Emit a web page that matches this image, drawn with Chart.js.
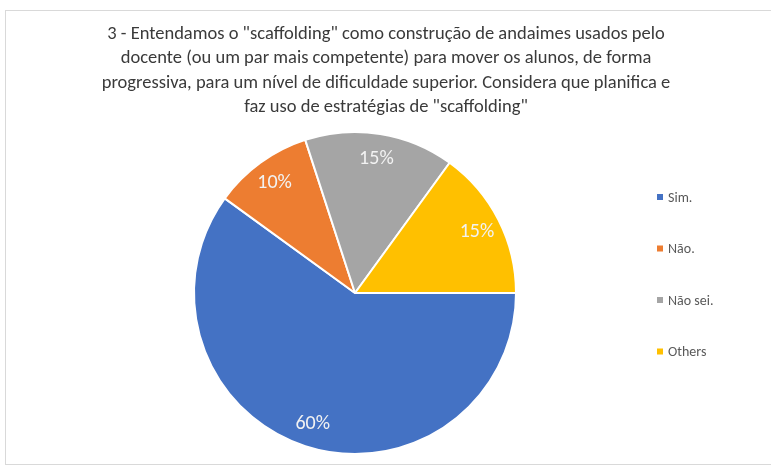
<!DOCTYPE html>
<html>
<head>
<meta charset="utf-8">
<script src="https://cdn.jsdelivr.net/npm/chart.js@4"></script>
<style>
  html, body { margin: 0; padding: 0; background: #fff; }
  #wrap { width: 771px; height: 466px; }
</style>
</head>
<body>
<div id="wrap"><canvas id="grafico" width="771" height="466"></canvas></div>
<script>
const categorias = ["Sim.", "Não.", "Não sei.", "Others"];
const valores = [60, 10, 15, 15];
const cores = ["#4472C4", "#ED7D31", "#A5A5A5", "#FFC000"];
const titulo = [
  '3 - Entendamos o "scaffolding" como construção de andaimes usados pelo',
  'docente (ou um par mais competente) para mover os alunos, de forma',
  'progressiva, para um nível de dificuldade superior. Considera que planifica e',
  'faz uso de estratégias de "scaffolding"'
];

const fonteBase = 'Calibri, Carlito, "Liberation Sans Narrow", "Open Sans", sans-serif';

// moldura, titulo, legenda e rotulos de percentagem
const extras = {
  id: 'extras',
  beforeDraw(chart) {
    const ctx = chart.ctx;
    ctx.save();
    ctx.fillStyle = '#fff';
    ctx.fillRect(0, 0, chart.width, chart.height);
    ctx.strokeStyle = '#d9d9d9';
    ctx.lineWidth = 1;
    ctx.strokeRect(5.5, 10.5, 900, 454);
    ctx.restore();
  },
  afterDraw(chart) {
    const ctx = chart.ctx;
    ctx.save();
    ctx.textAlign = 'center';
    ctx.textBaseline = 'middle';
    ctx.fillStyle = '#3a3a3a';
    ctx.font = '18.5px ' + fonteBase;
    titulo.forEach((linha, i) => ctx.fillText(linha, 386, 34 + i * 24.5));

    // legenda
    ctx.textAlign = 'left';
    ctx.font = '14px ' + fonteBase;
    categorias.forEach((nome, i) => {
      const y = 197 + i * 51.5;
      ctx.fillStyle = cores[i];
      ctx.fillRect(657, y - 3, 6, 6);
      ctx.fillStyle = '#595959';
      ctx.fillText(nome, 668, y + 1);
    });

    // rotulos dentro das fatias
    const meta = chart.getDatasetMeta(0);
    const total = valores.reduce((a, b) => a + b, 0);
    ctx.textAlign = 'center';
    ctx.font = '20px ' + fonteBase;
    ctx.fillStyle = '#f2f2f2';
    meta.data.forEach((arc, i) => {
      const p = arc.getProps(['x', 'y', 'startAngle', 'endAngle', 'outerRadius']);
      const meio = (p.startAngle + p.endAngle) / 2;
      const r = p.outerRadius * 0.85;
      const pct = Math.round(valores[i] / total * 100) + '%';
      ctx.fillText(pct, p.x + Math.cos(meio) * r, p.y + Math.sin(meio) * r + 1);
    });
    ctx.restore();
  }
};

new Chart(document.getElementById('grafico'), {
  type: 'pie',
  data: {
    labels: categorias,
    datasets: [{
      data: valores,
      backgroundColor: cores,
      borderColor: '#ffffff',
      borderWidth: 2
    }]
  },
  options: {
    responsive: false,
    animation: false,
    rotation: 90,
    layout: {
      padding: { left: 193, right: 254, top: 131, bottom: 11 }
    },
    plugins: {
      legend: { display: false },
      tooltip: { enabled: false }
    }
  },
  plugins: [extras]
});
</script>
</body>
</html>
